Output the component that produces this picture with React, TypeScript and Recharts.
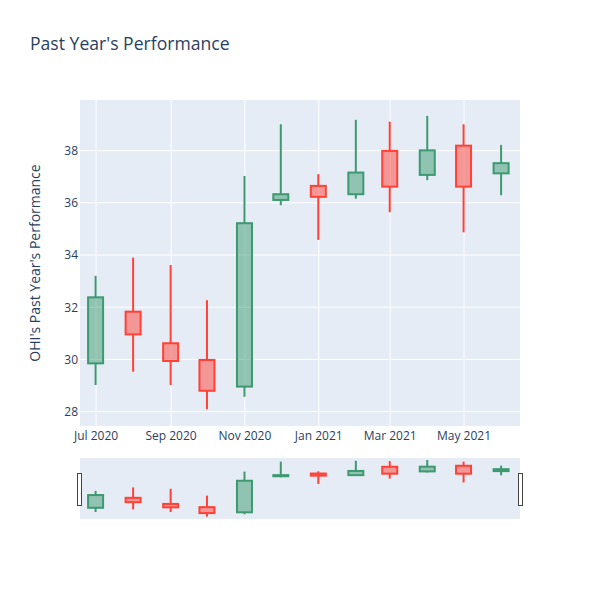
import React from 'react';
import { ComposedChart, Bar, XAxis, YAxis, CartesianGrid } from 'recharts';

const dates = ['2020-07-01', '2020-08-01', '2020-09-01', '2020-10-01', '2020-11-01', '2020-12-01', '2021-01-01', '2021-02-01', '2021-03-01', '2021-04-01', '2021-05-01', '2021-06-01'];
const opens = [29.85, 31.83, 30.62, 29.98, 28.96, 36.11, 36.65, 36.33, 37.99, 37.07, 38.19, 37.13];
const closes = [32.38, 30.96, 29.94, 28.8, 35.22, 36.33, 36.23, 37.16, 36.62, 38.01, 36.62, 37.52];
const highs = [33.2, 33.9, 33.62, 32.27, 37.03, 39.01, 37.1, 39.18, 39.11, 39.33, 39.01, 38.22];
const lows = [29.02, 29.53, 29.02, 28.09, 28.57, 35.91, 34.58, 36.16, 35.64, 36.87, 34.87, 36.29];

const xTickDates = ['2020-07-01', '2020-09-01', '2020-11-01', '2021-01-01', '2021-03-01', '2021-05-01'];
const xTickLabels = ['Jul 2020', 'Sep 2020', 'Nov 2020', 'Jan 2021', 'Mar 2021', 'May 2021'];
const yTicks = [28, 30, 32, 34, 36, 38];

const toT = (s: string) => Date.parse(s + 'T00:00:00Z');
const xDomain = [Date.parse('2020-06-17T18:00:00Z'), Date.parse('2021-06-16T06:00:00Z')];
const yDomain = [27.45, 39.94];
const miniYDomain = [27.63, 39.73];

const data = dates.map((d, i) => ({
  t: toT(d),
  open: opens[i],
  close: closes[i],
  high: highs[i],
  low: lows[i],
  range: [lows[i], highs[i]],
}));

const xTicks = xTickDates.map(toT);
const labelFor = (v: number) => {
  const i = xTicks.indexOf(v);
  return i >= 0 ? xTickLabels[i] : '';
};

const FONT = '"Open Sans", verdana, arial, sans-serif';
const TEXT = '#2a3f5f';
const BG = '#e5ecf6';

const Candle = (props: any) => {
  const { x, y, width, height, payload } = props;
  if (!payload) return null;
  const { open, close, high, low } = payload;
  const top = Math.min(y, y + height);
  const h = Math.abs(height);
  const k = h / (high - low);
  const py = (v: number) => top + (high - v) * k;
  const up = close >= open;
  const color = up ? '#3D9970' : '#FF4136';
  const fill = up ? 'rgba(61,153,112,0.5)' : 'rgba(255,65,54,0.5)';
  const cx = x + width / 2;
  const bt = py(Math.max(open, close));
  const bb = py(Math.min(open, close));
  return (
    <g>
      <line x1={cx} x2={cx} y1={py(high)} y2={bt} stroke={color} strokeWidth={2} />
      <line x1={cx} x2={cx} y1={bb} y2={py(low)} stroke={color} strokeWidth={2} />
      <rect x={x + 1} y={bt} width={width - 2} height={Math.max(bb - bt, 0.5)} fill={fill} stroke={color} strokeWidth={2} />
    </g>
  );
};

export default function App() {
  return (
    <div style={{ position: 'absolute', left: 0, top: 0, width: 600, height: 600, background: '#fff', fontFamily: FONT }}>
      <svg width={600} height={600} style={{ position: 'absolute', left: 0, top: 0 }}>
        <text x={30} y={50} fontSize={17.6} fill={TEXT} fontFamily={FONT}>Past Year's Performance</text>
        <text transform="translate(40,263) rotate(-90)" textAnchor="middle" fontSize={14} fill={TEXT} fontFamily={FONT}>OHI's Past Year's Performance</text>
      </svg>
      <div style={{ position: 'absolute', left: 0, top: 0 }}>
        <ComposedChart width={600} height={446} data={data} margin={{ top: 100, right: 80, left: 20, bottom: 0 }}>
          <CartesianGrid fill={BG} stroke="#ffffff" strokeWidth={1} horizontalValues={yTicks} verticalValues={xTicks} />
          <XAxis
            dataKey="t"
            type="number"
            domain={xDomain}
            allowDataOverflow
            ticks={xTicks}
            tickFormatter={labelFor}
            axisLine={false}
            tickLine={false}
            tickSize={0}
            tickMargin={5}
            height={20}
            tick={{ fill: TEXT, fontSize: 12, fontFamily: FONT }}
            interval={0}
          />
          <YAxis
            type="number"
            domain={yDomain}
            allowDataOverflow
            ticks={yTicks}
            axisLine={false}
            tickLine={false}
            tickSize={0}
            tickMargin={2}
            width={60}
            tick={{ fill: TEXT, fontSize: 12, fontFamily: FONT }}
            interval={0}
          />
          <Bar dataKey="range" barSize={17} shape={<Candle />} isAnimationActive={false} />
        </ComposedChart>
      </div>
      <div style={{ position: 'absolute', left: 0, top: 458 }}>
        <ComposedChart width={600} height={61} data={data} margin={{ top: 0, right: 80, left: 80, bottom: 0 }}>
          <CartesianGrid fill={BG} horizontal={false} vertical={false} />
          <XAxis dataKey="t" type="number" domain={xDomain} allowDataOverflow hide />
          <YAxis type="number" domain={miniYDomain} allowDataOverflow hide />
          <Bar dataKey="range" barSize={17} shape={<Candle />} isAnimationActive={false} />
        </ComposedChart>
      </div>
      <div style={{ position: 'absolute', left: 77, top: 473, width: 3, height: 31, background: '#fff', border: '1px solid #444' }} />
      <div style={{ position: 'absolute', left: 518, top: 473, width: 3, height: 31, background: '#fff', border: '1px solid #444' }} />
    </div>
  );
}
